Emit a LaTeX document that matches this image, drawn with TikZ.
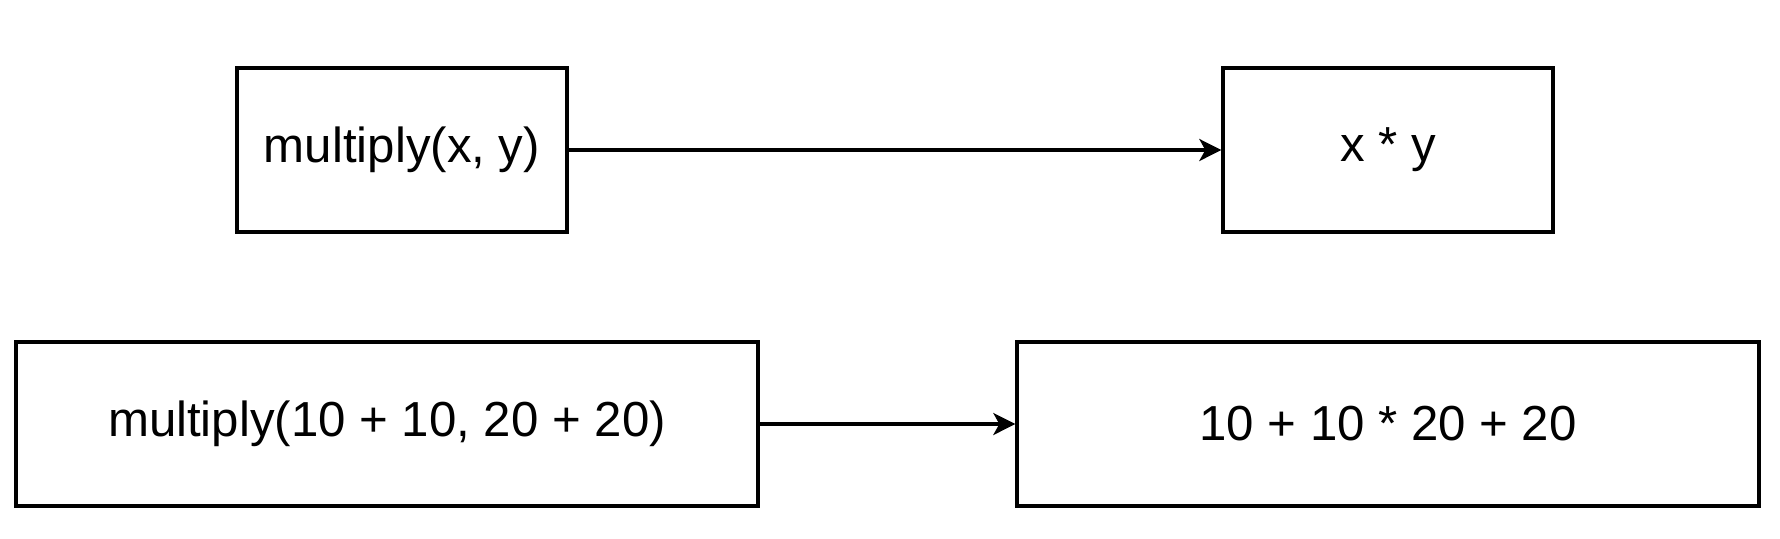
\documentclass[tikz,border=0pt]{standalone}
\usepackage{fontspec}
\setmainfont{Liberation Sans}
\usetikzlibrary{arrows.meta,positioning}
\tikzstyle{box} = [draw, rectangle, line width=1.7pt, minimum height=82pt, inner sep=0pt, text centered, font=\fontsize{24.6}{29}\selectfont]
\tikzstyle{smallbox} = [box, minimum width=165pt]
\tikzstyle{widebox} = [box, minimum width=371pt]
\tikzstyle{line} = [draw, line width=1.7pt, -{Stealth[length=11pt,width=11pt,inset=3pt]}]

\begin{document}
\begin{tikzpicture}[auto]
	\useasboundingbox (0,0) rectangle (890pt,-269pt);
	\node [smallbox] at (201pt,-75pt) (call) {multiply(x, y)};
	\node [smallbox, right of=call, node distance=493pt] (body) {x * y};

	\node [widebox] at (193.5pt,-212pt) (callnum) {multiply(10 + 10, 20 + 20)};
	\node [widebox, right of=callnum, node distance=500.5pt] (bodynum) {10 + 10 * 20 + 20};

	\path [line] (call) -- (body);
	\path [line] (callnum) -- (bodynum);
\end{tikzpicture}
\end{document}
